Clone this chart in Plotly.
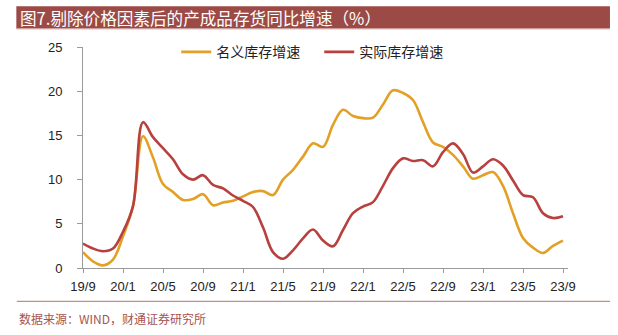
import plotly.graph_objects as go

# Monthly categories, 2019/9 .. 2023/9
months = [f"{y % 100}/{m}" for y in range(2019, 2024) for m in range(1, 13)]
months = months[months.index("19/9"):months.index("23/9") + 1]

# 名义库存增速 (%)
nominal = [1.8, 0.75, 0.3, 0.95, 3.6, 7.0, 14.9, 12.5, 9.5, 8.6, 7.7, 7.8, 8.35,
           7.1, 7.4, 7.6, 8.1, 8.6, 8.7, 8.25, 10.0, 11.1, 12.6, 14.1, 13.7,
           16.2, 17.9, 17.2, 16.95, 17.0, 18.5, 20.1, 19.8, 19.0, 16.5, 14.2,
           13.7, 12.8, 11.5, 10.1, 10.5, 10.85, 9.3, 6.2, 3.4, 2.3, 1.7, 2.5, 3.1]

# 实际库存增速 (%)
real = [2.76, 2.2, 1.9, 2.2, 4.1, 7.0, 16.5, 14.8, 13.55, 12.3, 10.6, 10.0, 10.5,
        9.4, 9.0, 8.2, 7.6, 6.9, 4.6, 1.8, 1.05, 2.0, 3.35, 4.35, 3.1, 2.45,
        4.3, 6.2, 6.95, 7.45, 9.3, 11.3, 12.4, 12.1, 12.2, 11.5, 13.1, 14.1,
        12.9, 10.8, 11.5, 12.3, 11.6, 9.9, 8.25, 8.0, 6.2, 5.65, 5.85]

tick_labels = months[::4]

ORANGE = "#E2A126"
RED = "#B8403F"
BAR = "#9C4A46"
CJK = "Noto Sans CJK SC"

W, H = 618, 335
ML, MR, MT, MB = 82.7, 50, 46.7, 67.3
PW, PH = W - ML - MR, H - MT - MB


def px_x(x):
    return (x - ML) / PW


def px_y(y):
    return (H - MB - y) / PH


fig = go.Figure()
fig.add_trace(go.Scatter(x=months, y=nominal, name="名义库存增速", mode="lines",
                         line=dict(color=ORANGE, width=2.6, shape="spline", smoothing=1)))
fig.add_trace(go.Scatter(x=months, y=real, name="实际库存增速", mode="lines",
                         line=dict(color=RED, width=2.6, shape="spline", smoothing=1)))

axis_common = dict(showgrid=False, zeroline=False, showline=True,
                   linecolor="#9A9A9A", linewidth=1, ticks="outside",
                   tickcolor="#9A9A9A", tickwidth=1,
                   tickfont=dict(family="Liberation Sans, Arial", size=13, color="#222"))

fig.update_xaxes(type="category", range=[0, 48.5], tickmode="array",
                 tickvals=tick_labels, ticktext=tick_labels, ticklen=4,
                 ticklabelstandoff=2, **axis_common)
fig.update_yaxes(range=[0, 25], tickvals=[0, 5, 10, 15, 20, 25], ticklen=5,
                 ticklabelstandoff=12, **axis_common)

# title bar
fig.add_shape(type="rect", xref="paper", yref="paper",
              x0=px_x(16), x1=px_x(610), y0=px_y(28), y1=px_y(6),
              fillcolor=BAR, line_width=0, layer="below")
fig.add_shape(type="line", xref="paper", yref="paper",
              x0=px_x(16), x1=px_x(610), y0=px_y(28.5), y1=px_y(28.5),
              line=dict(color="#C48C88", width=1))
fig.add_annotation(xref="paper", yref="paper", x=px_x(17.5), y=px_y(17.2),
                   xanchor="left", yanchor="middle", showarrow=False,
                   text="图7.剔除价格因素后的产成品存货同比增速（%）",
                   font=dict(family=CJK, size=16.6, color="white"))

# footer rule and source note
fig.add_shape(type="line", xref="paper", yref="paper",
              x0=px_x(16.5), x1=px_x(610), y0=px_y(301), y1=px_y(301),
              line=dict(color="#B9706A", width=1))
fig.add_annotation(xref="paper", yref="paper", x=px_x(17), y=px_y(318),
                   xanchor="left", yanchor="middle", showarrow=False,
                   text="数据来源：WIND，财通证券研究所",
                   font=dict(family=CJK, size=12, color="#A5544F"))

fig.update_layout(
    width=W, height=H,
    margin=dict(l=ML, r=MR, t=MT, b=MB, pad=0),
    paper_bgcolor="white", plot_bgcolor="white",
    showlegend=True,
    legend=dict(orientation="h", x=px_x(176), y=px_y(52), xanchor="left",
                yanchor="middle", font=dict(family=CJK, size=14, color="#222"),
                bgcolor="rgba(0,0,0,0)", itemwidth=30, tracegroupgap=0,
                entrywidth=98, entrywidthmode="pixels"),
)

fig.write_html("out.html")
